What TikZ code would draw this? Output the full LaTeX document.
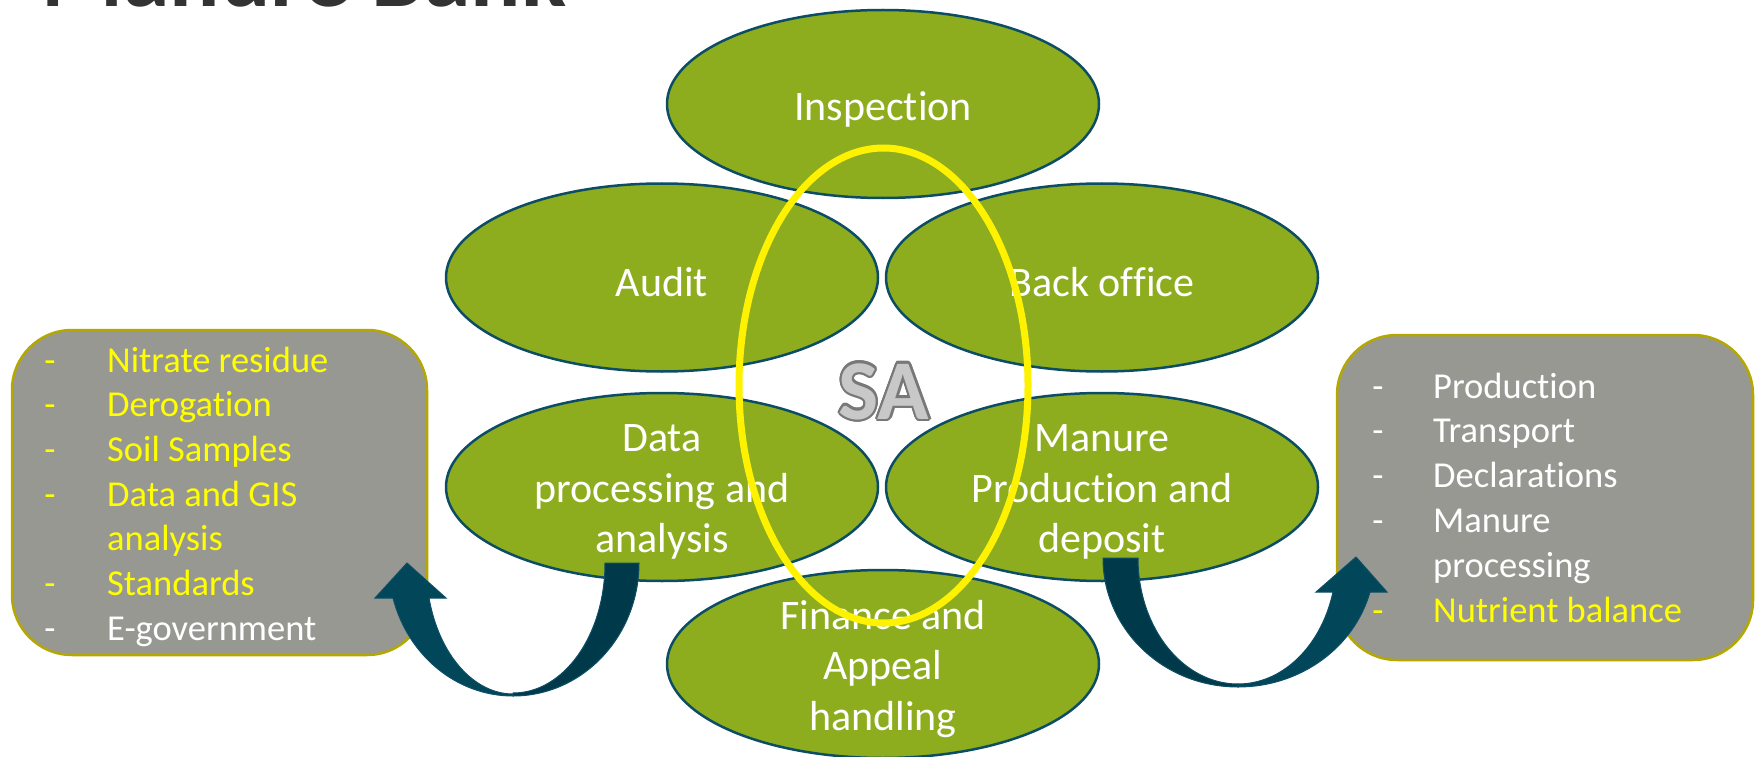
\documentclass[tikz,border=0pt]{standalone}
\usepackage{fontspec}
\setmainfont{Carlito}[Ligatures={NoCommon,NoDiscretionary,NoRare}]
\usetikzlibrary{shapes.geometric}
\definecolor{leaf}{RGB}{141,173,31}
\definecolor{rim}{RGB}{12,77,100}
\definecolor{boxfill}{RGB}{152,152,147}
\definecolor{boxrim}{RGB}{180,168,0}
\definecolor{hl}{RGB}{255,242,0}
\definecolor{txtyellow}{RGB}{255,255,0}
\definecolor{arrowA}{RGB}{0,58,74}
\definecolor{arrowB}{RGB}{2,70,90}
\definecolor{arrowrim}{RGB}{14,79,102}
\definecolor{titlegray}{RGB}{51,51,51}
\definecolor{saedge}{RGB}{120,120,120}
\definecolor{safill}{RGB}{200,200,200}
\begin{document}
\begin{tikzpicture}[x=1pt,y=-1pt,
  oval/.style={ellipse, draw=rim, line width=2.5pt, fill=leaf, minimum width=432pt, minimum height=188pt, inner sep=0pt},
  ovaltext/.style={text=white, align=center, inner sep=0pt, yshift=-5pt, font=\fontsize{42}{50.5}\selectfont},
  infobox/.style={draw=boxrim, fill=boxfill, line width=2.5pt, rounded corners=60pt, inner sep=0pt, minimum height=325pt},
  item/.style={anchor=base west, inner sep=0pt, font=\fontsize{36.5}{44}\selectfont},
  bullet/.style={anchor=base, inner sep=0pt, font=\fontsize{36.5}{44}\selectfont},
  ring/.style={ellipse, draw=hl, line width=7pt, inner sep=0pt},
  tailpart/.style={fill=arrowA, draw=arrowrim, line width=1pt},
  headpart/.style={fill=arrowB, draw=arrowrim, line width=1pt}
]
\useasboundingbox (0,0) rectangle (1757,757);
\clip (0,0) rectangle (1757,757);

% title (cut off at top)
\node[anchor=base west, inner sep=0pt, text=titlegray, font=\fontsize{94}{94}\selectfont\bfseries] (title) at (41,7) {Manure Bank};

% ellipses
\node[oval] (insp) at (883,104) {};
\node[oval] (audit) at (662,277.5) {};
\node[oval] (back) at (1102,277.5) {};
\node[oval] (data) at (662,487) {};
\node[oval] (manure) at (1102,487) {};
\node[oval] (fin) at (883,664) {};

\node[ovaltext] (t-insp) at (insp.center) {Inspection};
\node[ovaltext] (t-audit) at (audit.center) {Audit};
\node[ovaltext] (t-back) at (back.center) {Back office};
\node[ovaltext] (t-data) at (data.center) {Data\\processing and\\analysis};
\node[ovaltext] (t-manure) at (manure.center) {Manure\\Production and\\deposit};
\node[ovaltext] (t-fin) at (fin.center) {Finance and\\Appeal\\handling};

% SA label with outline
\foreach \a in {0,22.5,...,337.5}
  \node[anchor=base, inner sep=0pt, text=saedge, font=\fontsize{85}{85}\selectfont\bfseries, xshift={2.3*cos(\a)}, yshift={2.3*sin(\a)}] (sa\a) at (884,419) {SA};
\node[anchor=base, inner sep=0pt, text=safill, font=\fontsize{85}{85}\selectfont\bfseries] (sa) at (884,419) {SA};

% yellow ring
\node[ring, minimum width=289pt, minimum height=475pt] (ring) at (883.5,385.5) {};

% left box
\node[infobox, minimum width=415pt] (lbox) at (219.5,492.5) {};
\foreach \i/\t/\c/\d in {0/Nitrate residue/txtyellow/1, 1/Derogation/txtyellow/1, 2/Soil Samples/txtyellow/1, 3/Data and GIS/txtyellow/1, 4/analysis/txtyellow/0, 5/Standards/txtyellow/1, 6/E-government/white/1}{
  \node[item, text=\c] (l\i) at (107,372+44.7*\i) {\t};
  \ifnum\d=1 \node[bullet, text=\c] (ld\i) at (50,372+44.7*\i) {-}; \fi
}

% right box
\node[infobox, minimum width=416pt] (rbox) at (1545,497.5) {};
\foreach \i/\t/\c/\d in {0/Production/white/1, 1/Transport/white/1, 2/Declarations/white/1, 3/Manure/white/1, 4/processing/white/0, 5/Nutrient balance/txtyellow/1}{
  \node[item, text=\c] (r\i) at (1433,398+44.8*\i) {\t};
  \ifnum\d=1 \node[bullet, text=\c] (rd\i) at (1378,398+44.8*\i) {-}; \fi
}

% left curved arrow
\draw[tailpart] (605,563) -- (639,563) .. controls (639,636) and (583,696) .. (513,696)
  -- (513,693) .. controls (564,693) and (605,635) .. (605,563) -- cycle;
\draw[headpart] (513,696) .. controls (457,696) and (408,656) .. (393,598)
  -- (375,598) -- (407,563) -- (446,598) -- (429,598)
  .. controls (439,655) and (474,694) .. (513,694) -- cycle;

% right curved arrow
\draw[tailpart] (1138,558) -- (1103,558) .. controls (1103,629) and (1163,687) .. (1238,687)
  -- (1238,684) .. controls (1183,684) and (1138,628) .. (1138,558) -- cycle;
\draw[headpart] (1238,687) .. controls (1300,687) and (1354,648) .. (1370,592)
  -- (1387,592) -- (1356,557) -- (1316,592) -- (1333,592)
  .. controls (1321,647) and (1282,684) .. (1238,684) -- cycle;
\end{tikzpicture}
\end{document}
